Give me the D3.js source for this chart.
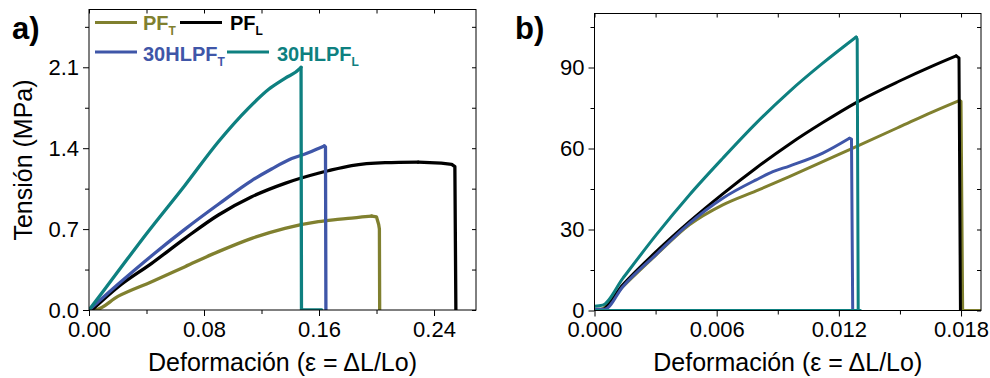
<!DOCTYPE html>
<html>
<head>
<meta charset="utf-8">
<script src="https://cdn.jsdelivr.net/npm/d3@7"></script>
<style>
  html, body { margin: 0; padding: 0; background: #fff; }
  svg { display: block; font-family: "Liberation Sans", Arial, sans-serif; }
</style>
</head>
<body>
<script>
// Series colours
const colorPFT = "#80802f";
const colorPFL = "#000000";
const colorHLT = "#3f56a8";
const colorHLL = "#0e8080";

// Panel a: strain (ΔL/Lo) vs stress (MPa)
const aPFT = [[0.000,0],[0.004,0],[0.0204,0.12],[0.0436,0.245],[0.0668,0.375],[0.090,0.505],[0.1132,0.62],[0.1363,0.707],[0.1595,0.764],[0.170,0.78],[0.1827,0.795],[0.190,0.805],[0.1967,0.813],[0.2000,0.805],[0.2015,0.74],[0.2020,0.70],[0.2022,0]];
const aPFL = [[0.002,0],[0.0204,0.202],[0.0436,0.404],[0.0668,0.62],[0.090,0.822],[0.1132,0.98],[0.1363,1.096],[0.1595,1.183],[0.1665,1.205],[0.1827,1.25],[0.206,1.275],[0.229,1.28],[0.245,1.27],[0.2523,1.26],[0.2545,1.24],[0.2552,0]];
const aHLT = [[0,0],[0.0204,0.225],[0.0436,0.47],[0.0668,0.70],[0.090,0.915],[0.1132,1.12],[0.127,1.22],[0.141,1.31],[0.1525,1.36],[0.160,1.40],[0.1637,1.42],[0.1645,1.41],[0.1648,0]];
const aHLL = [[0,0],[0.020,0.33],[0.040,0.66],[0.0668,1.08],[0.090,1.456],[0.1108,1.745],[0.125,1.91],[0.1363,2.005],[0.1468,2.09],[0.1475,2.10],[0.1478,0],[0.1619,0]];

// Panel b: strain (ΔL/Lo) vs stress (MPa)
const bPFT = [[0,0.5],[0.0003,0.5],[0.00139,8.8],[0.00303,20.6],[0.00466,31.7],[0.0063,39.1],[0.00794,44.3],[0.00957,49.6],[0.01121,55.1],[0.0125,59.5],[0.01498,68.0],[0.01661,73.6],[0.01792,77.8],[0.0180,77.5],[0.01808,0],[0.019,0]];
const bPFL = [[0,0],[0.0003,0],[0.00139,9.5],[0.00303,21.8],[0.00466,32.9],[0.0063,43.2],[0.00794,52.8],[0.00957,61.6],[0.01121,69.6],[0.01285,77.0],[0.01498,85.0],[0.01661,90.6],[0.01776,94.3],[0.0179,93.5],[0.01797,0]];
const bHLT = [[0,0.5],[0.0005,0.5],[0.00139,8.8],[0.00303,20.8],[0.00466,32.3],[0.0063,41.6],[0.00794,48.4],[0.00876,51.4],[0.00957,53.5],[0.01121,58.3],[0.01252,63.8],[0.01262,63.5],[0.01268,0]];
const bHLL = [[0,1.6],[0.0004,2.0],[0.00139,11.9],[0.00303,28.0],[0.00466,42.8],[0.0063,56.4],[0.00794,69.4],[0.00957,81.1],[0.01121,91.6],[0.01285,101.3],[0.0129,100.5],[0.01295,0],[0.01306,0],[0,0]];

// Axis ticks
const aXMajor = [0, 0.08, 0.16, 0.24];
const aXMinor = [0.04, 0.12, 0.20];
const aYMajor = [0, 0.7, 1.4, 2.1];
const aYMinor = [0.35, 1.05, 1.75, 2.45];
const bXMajor = [0, 0.006, 0.012, 0.018];
const bXMinor = [0.003, 0.009, 0.015];
const bYMajor = [0, 30, 60, 90];
const bYMinor = [15, 45, 75, 105];

// Legend entries
const legendNames = ["PF", "PF", "30HLPF", "30HLPF"];
const legendSubs = ["T", "L", "T", "L"];

const W = 990, H = 378;
const svg = d3.select("body").append("svg").attr("width", W).attr("height", H);

function drawPanel(cfg) {
  const x = d3.scaleLinear().domain(cfg.xDomain).range([cfg.left, cfg.right]);
  const y = d3.scaleLinear().domain(cfg.yDomain).range([cfg.bottom, cfg.top]);
  const g = svg.append("g");

  const clipId = "clip-" + cfg.id;
  svg.append("clipPath").attr("id", clipId).append("rect")
    .attr("x", cfg.left).attr("y", cfg.top)
    .attr("width", cfg.right - cfg.left).attr("height", cfg.bottom - cfg.top);

  // loading branch is smoothed up to the peak; the fracture part stays straight
  const smooth = d3.line().x(d => x(d[0])).y(d => y(d[1])).curve(d3.curveMonotoneX);
  const straight = d3.line().x(d => x(d[0])).y(d => y(d[1]));
  const lines = g.append("g").attr("clip-path", `url(#${clipId})`);
  cfg.series.forEach(s => {
    const iMax = d3.maxIndex(s.data, d => d[1]);
    const parts = [
      { pts: s.data.slice(0, iMax + 1), gen: smooth },
      { pts: s.data.slice(iMax), gen: straight }
    ];
    parts.forEach(p => {
      if (p.pts.length < 2) return;
      lines.append("path").datum(p.pts)
        .attr("d", p.gen)
        .attr("fill", "none")
        .attr("stroke", s.color)
        .attr("stroke-width", cfg.lineWidth)
        .attr("stroke-linejoin", "round")
        .attr("stroke-linecap", "round");
    });
  });

  const fmtX = cfg.xFormat, fmtY = cfg.yFormat;
  const style = sel => {
    sel.select(".domain").remove();
    sel.selectAll("line").attr("stroke", "#000").attr("stroke-width", 1);
    sel.selectAll("text").attr("fill", "#000").style("font-size", "22px")
      .style("font-family", '"Liberation Sans", Arial, sans-serif');
  };

  // bottom axis (outside ticks)
  g.append("g").attr("transform", `translate(0,${cfg.bottom})`)
    .call(d3.axisBottom(x).tickValues(cfg.xMajor).tickSize(6).tickPadding(5).tickFormat(fmtX))
    .call(style);
  g.append("g").attr("transform", `translate(0,${cfg.bottom})`)
    .call(d3.axisBottom(x).tickValues(cfg.xMinor).tickSize(4).tickFormat(""))
    .call(style);
  // left axis (outside ticks)
  g.append("g").attr("transform", `translate(${cfg.left},0)`)
    .call(d3.axisLeft(y).tickValues(cfg.yMajor).tickSize(6).tickPadding(4).tickFormat(fmtY))
    .call(style);
  g.append("g").attr("transform", `translate(${cfg.left},0)`)
    .call(d3.axisLeft(y).tickValues(cfg.yMinor).tickSize(4).tickFormat(""))
    .call(style);
  // top and right mirrored ticks pointing inward
  g.append("g").attr("transform", `translate(0,${cfg.top})`)
    .call(d3.axisBottom(x).tickValues(cfg.xMajor.concat(cfg.xMinor)).tickSize(4).tickFormat(""))
    .call(style);
  g.append("g").attr("transform", `translate(${cfg.right},0)`)
    .call(d3.axisLeft(y).tickValues(cfg.yMajor.concat(cfg.yMinor)).tickSize(4).tickFormat(""))
    .call(style);

  // frame
  g.append("rect")
    .attr("x", cfg.left).attr("y", cfg.top)
    .attr("width", cfg.right - cfg.left).attr("height", cfg.bottom - cfg.top)
    .attr("fill", "none").attr("stroke", "#000").attr("stroke-width", 1);

  // x title
  g.append("text")
    .attr("x", (cfg.left + cfg.right) / 2).attr("y", 371)
    .attr("text-anchor", "middle")
    .style("font-size", "25px")
    .text("Deformación (ε = ΔL/Lo)");

  // panel letter
  g.append("text")
    .attr("x", cfg.letterX).attr("y", 39)
    .style("font-size", "31px").style("font-weight", "bold")
    .text(cfg.letter);

  return { x, y, g };
}

drawPanel({
  id: "a", left: 89, right: 476, top: 9.5, bottom: 310,
  xDomain: [0, 0.2692], yDomain: [0, 2.6],
  xMajor: aXMajor, xMinor: aXMinor, yMajor: aYMajor, yMinor: aYMinor,
  xFormat: d3.format(".2f"), yFormat: d3.format(".1f"),
  letter: "a)", letterX: 12, lineWidth: 3.3,
  series: [
    { data: aPFT, color: colorPFT },
    { data: aPFL, color: colorPFL },
    { data: aHLT, color: colorHLT },
    { data: aHLL, color: colorHLL }
  ]
});

drawPanel({
  id: "b", left: 594.5, right: 981, top: 13.5, bottom: 310.5,
  xDomain: [0, 0.01898], yDomain: [0, 110],
  xMajor: bXMajor, xMinor: bXMinor, yMajor: bYMajor, yMinor: bYMinor,
  xFormat: d3.format(".3f"), yFormat: d3.format("d"),
  letter: "b)", letterX: 515, lineWidth: 3,
  series: [
    { data: bPFT, color: colorPFT },
    { data: bPFL, color: colorPFL },
    { data: bHLT, color: colorHLT },
    { data: bHLL, color: colorHLL }
  ]
});

// y title for panel a
svg.append("text")
  .attr("transform", "translate(32,160) rotate(-90)")
  .attr("text-anchor", "middle")
  .style("font-size", "25px")
  .text("Tensión (MPa)");

// legend in panel a
const legendColors = [colorPFT, colorPFL, colorHLT, colorHLL];
const legendPos = [
  { lx: 95, ly: 22.5, tx: 143, ty: 30 },
  { lx: 180, ly: 22.5, tx: 230, ty: 30 },
  { lx: 95, ly: 52, tx: 143, ty: 60.5 },
  { lx: 227, ly: 52, tx: 277, ty: 60.5 }
];
const leg = svg.append("g");
legendNames.forEach((name, i) => {
  const p = legendPos[i];
  leg.append("line")
    .attr("x1", p.lx).attr("x2", p.lx + 42)
    .attr("y1", p.ly).attr("y2", p.ly)
    .attr("stroke", legendColors[i]).attr("stroke-width", 3);
  const t = leg.append("text")
    .attr("x", p.tx).attr("y", p.ty)
    .attr("fill", legendColors[i])
    .style("font-size", "20px").style("font-weight", "bold");
  t.append("tspan").text(name);
  t.append("tspan").attr("dy", 5).style("font-size", "12px").text(legendSubs[i]);
});
</script>
</body>
</html>
